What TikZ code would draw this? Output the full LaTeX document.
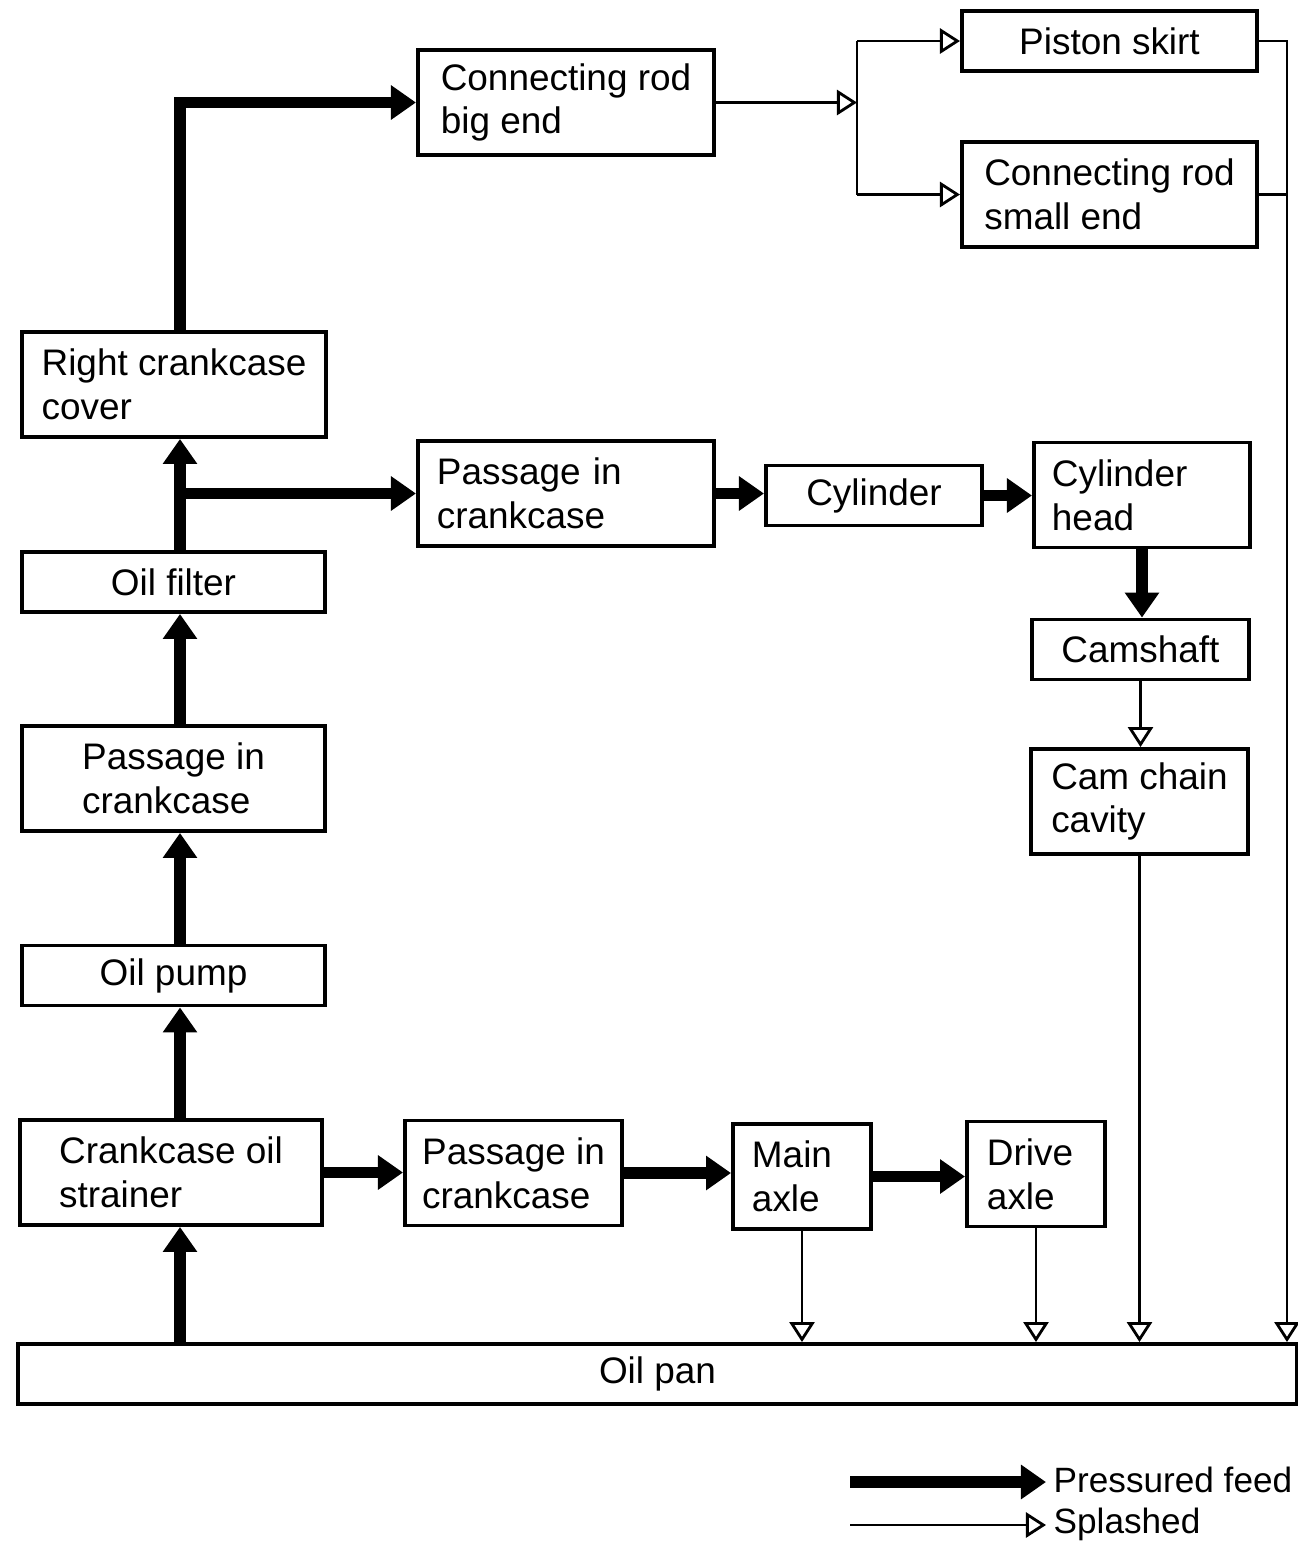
\documentclass[tikz,border=0pt]{standalone}
\usepackage{fontspec}
\setmainfont{Liberation Sans}
\usetikzlibrary{arrows.meta}

\begin{document}
\begin{tikzpicture}[x=0.01cm, y=-0.01cm, every node/.style={font=\fontsize{10.5}{12.4}\selectfont}, box/.style={draw, line width=1.1pt, inner sep=0pt, align=left, minimum height=1.05cm}, lowbox/.style={box, minimum height=0.6cm}, feed/.style={line width=3.2pt, -{Triangle[length=2.5mm, width=3.3mm]}}, splash/.style={line width=0.7pt, -{Triangle[open, length=2mm, width=2.5mm, line width=0.8pt]}}, legend/.style={anchor=west, inner sep=2pt, font=\fontsize{10}{12}\selectfont}]
	\useasboundingbox (0,0) rectangle (1298,1547);
	% left column
	\node[box, minimum width=3.04cm] (cover) at (174,384.5) {Right crankcase\\cover};
	\node[lowbox, minimum width=3.03cm] (filter) at (173.5,582) {Oil filter};
	\node[box, minimum width=3.03cm] (passleft) at (173.5,778.5) {Passage in\\crankcase};
	\node[lowbox, minimum width=3.03cm] (pump) at (173.5,975.5) {Oil pump};
	\node[box, minimum width=3.02cm] (strainer) at (171,1172.5) {Crankcase oil\\strainer};
	% top and middle rows
	\node[box, minimum width=2.96cm] (bigend) at (566,102.5) {Connecting rod\\big end};
	\node[lowbox, minimum width=2.95cm] (skirt) at (1109.5,41) {Piston skirt};
	\node[box, minimum width=2.95cm] (smallend) at (1109.5,194.5) {Connecting rod\\small end};
	\node[box, minimum width=2.96cm, text width=2.58cm] (passmid) at (566,493.5) {Passage in\\crankcase};
	\node[lowbox, minimum width=2.16cm] (cyl) at (874,495.5) {Cylinder};
	\node[box, minimum width=2.16cm, text width=1.8cm] (head) at (1142,495) {Cylinder\\head};
	\node[lowbox, minimum width=2.17cm] (cam) at (1140.5,649.5) {Camshaft};
	\node[box, minimum width=2.17cm] (cavity) at (1139.5,801.5) {Cam chain\\cavity};
	% bottom row
	\node[box, minimum width=2.17cm] (passlow) at (513.5,1173) {Passage in\\crankcase};
	\node[box, minimum width=1.38cm, text width=1.0cm] (mainax) at (802,1176.5) {Main\\axle};
	\node[box, minimum width=1.38cm, text width=0.98cm] (driveax) at (1036,1174) {Drive\\axle};
	\node[lowbox, minimum width=12.79cm] (pan) at (657.5,1374) {Oil pan};
	\coordinate (spine) at (180,0);
	\coordinate (jn) at (857,104);
	\coordinate (rail) at (1287,42);
	% pressured feed
	\draw[feed] (pan.north -| spine) -- (strainer.south -| spine);
	\foreach \a/\b in {strainer/pump, pump/passleft, passleft/filter, filter/cover} {\draw[feed] (\a.north -| spine) -- (\b.south -| spine);}
	\draw[feed] (passmid.west -| spine) -- (passmid.west);
	\draw[feed] (cover.north -| spine) |- (bigend.west);
	\foreach \a/\b in {passmid/cyl, cyl/head, strainer/passlow, passlow/mainax, mainax/driveax} {\draw[feed] (\a.east) -- (\a.east -| \b.west);}
	\draw[feed] (head.south) -- (head.south |- cam.north);
	% splashed
	\draw[splash] (bigend.east) -- (bigend.east -| jn);
	\draw[line width=0.7pt] (jn |- skirt.west) -- (jn |- smallend.west);
	\draw[splash] (jn |- skirt.west) -- (skirt.west);
	\draw[splash] (jn |- smallend.west) -- (smallend.west);
	\draw[splash] (skirt.east) -| (pan.north -| rail);
	\draw[line width=0.7pt] (smallend.east) -- (smallend.east -| rail);
	\draw[splash] (cam.south) -- (cam.south |- cavity.north);
	\foreach \a in {cavity, mainax, driveax} {\draw[splash] (\a.south) -- (\a.south |- pan.north);}
	% legend
	\node[legend] (lfeed) at (1046,1480) {Pressured feed};
	\node[legend] (lsplash) at (1046,1524) {Splashed};
	\coordinate (lf) at (850,1482);
	\coordinate (ls) at (850,1525);
	\draw[feed] (lf) -- (lf -| lfeed.west);
	\draw[splash] (ls) -- (ls -| lsplash.west);
\end{tikzpicture}
\end{document}
